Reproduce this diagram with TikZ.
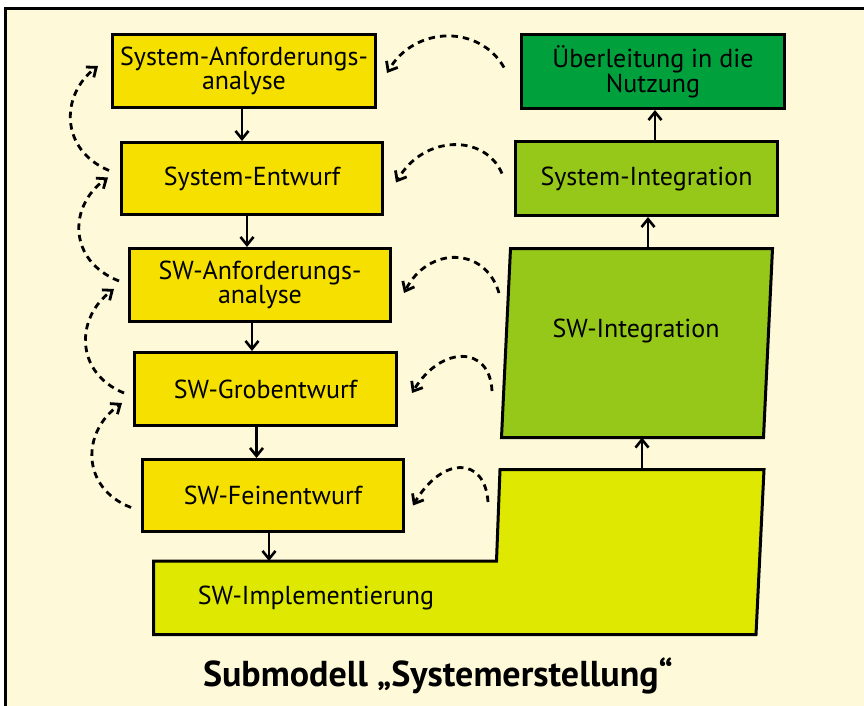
\documentclass[tikz,border=0pt]{standalone}
\usepackage{fontspec}
\setmainfont{PT Sans}
\usetikzlibrary{arrows.meta,calc}
\definecolor{bg}{HTML}{FEFAD9}
\definecolor{ybox}{HTML}{F5E000}
\definecolor{dgreen}{HTML}{00A03C}
\definecolor{lgreen}{HTML}{96C81A}
\definecolor{lime}{HTML}{DEE800}
\begin{document}
\begin{tikzpicture}[x=1pt,y=-1pt,
  box/.style={draw=black,line width=3pt,minimum height=73pt,inner sep=0pt,align=center,
    font=\fontsize{26}{21}\selectfont},
  lbl/.style={font=\fontsize{26}{21}\selectfont,align=center,inner sep=0pt},
  arr/.style={line width=2.6pt,-{Straight Barb[length=8pt,width=13pt,line width=2.6pt]}},
  darr/.style={line width=2.8pt,dash pattern=on 6.5pt off 5pt,
    -{Straight Barb[length=8pt,width=13pt,line width=2.8pt]}}]
\useasboundingbox (0,0) rectangle (864,706);
\begin{scope}
\clip (0,0) rectangle (864,706);
\fill[white] (0,0) rectangle (864,706);
\draw[fill=bg,line width=3pt] (5.5,8.5) rectangle (900,740);
\end{scope}

% left column
\node[box,fill=ybox,minimum width=263pt] (b1) at (244,71) {System-Anforderungs-\\analyse};
\node[box,fill=ybox,minimum width=261pt,minimum height=72pt] (b2) at (252,178.5) {System-Entwurf};
\node[box,fill=ybox,minimum width=261pt] (b3) at (260,285) {SW-Anforderungs-\\analyse};
\node[box,fill=ybox,minimum width=262pt] (b4) at (265.5,389) {SW-Grobentwurf};
\node[box,fill=ybox,minimum width=261pt,minimum height=72pt] (b5) at (273,495.5) {SW-Feinentwurf};

% right column
\node[box,fill=dgreen,minimum width=263pt,minimum height=74pt] (ue) at (653,71.5) {Überleitung in die\\Nutzung};
\node[box,fill=lgreen,minimum width=262pt,minimum height=74pt] (si) at (646.5,178.5) {System-Integration};

\draw[fill=lgreen,line width=3pt,line join=miter] (510.5,248.5) -- (772.5,248.5) -- (763.5,437.5) -- (501.5,437.5) -- cycle;
\coordinate (swiTop) at (648,248.5);
\coordinate (swiBot) at (642,437.5);
\coordinate (swiFb1) at (499,293);
\coordinate (swiFb2) at (492,391);
\node[lbl] (swi) at (636,331) {SW-Integration};

\draw[fill=lime,line width=3pt,line join=miter] (153.5,561) -- (496.5,561) -- (500,469.5) -- (764,469.5) -- (756,634.5) -- (153.5,634.5) -- cycle;
\coordinate (implTop) at (642,469.5);
\coordinate (implL) at (269,561);
\coordinate (implFb) at (488,502);
\node[lbl] (impl) at (316,598) {SW-Implementierung};

% solid arrows
\draw[arr] ([xshift=-2pt]b1.south) -- ([xshift=-2pt]b1.south |- b2.north);
\draw[arr] ([xshift=-5pt]b2.south) -- ([xshift=-5pt]b2.south |- b3.north);
\draw[arr] ([xshift=-8pt]b3.south) -- ([xshift=-8pt]b3.south |- b4.north);
\draw[arr] ([xshift=-9pt]b4.south) -- ([xshift=-9pt]b4.south |- b5.north);
\draw[arr] ([xshift=-4pt]b5.south) -- (implL);
\draw[arr] (implTop) -- (swiBot);
\draw[arr] (swiTop) -- (swiTop |- si.south);
\draw[arr] ([xshift=8.5pt]si.north) -- ([xshift=8.5pt]si.north |- ue.south);

% dashed feedback arrows (left)
\draw[darr] ($(b2.west)+(-11,-8)$) .. controls (60,150) and (60,95) .. ($(b1.west)+(-13,-5)$);
\draw[darr] ($(b3.west)+(-9,-4)$) .. controls (68,261) and (68,206) .. ($(b2.west)+(-12,-1)$);
\draw[darr] ($(b4.west)+(-9,4)$) .. controls (75,373) and (75,318) .. ($(b3.west)+(-14,4)$);
\draw[darr] ($(b5.west)+(-10,12)$) .. controls (81,488) and (81,432) .. ($(b4.west)+(-11,14)$);

% dashed feedback arrows (right)
\draw[darr] ($(ue.west)+(-16,-4)$) .. controls (480,25) and (415,25) .. ($(b1.east)+(10,2)$);
\draw[darr] ($(si.west)+(-12,-5)$) .. controls (485,134) and (424,134) .. ($(b2.east)+(12,4)$);
\draw[darr] (swiFb1) .. controls (485,246) and (428,246) .. ($(b3.east)+(12,8)$);
\draw[darr] (swiFb2) .. controls (490,345) and (441,345) .. ($(b4.east)+(14,4)$);
\draw[darr] (implFb) .. controls (485,456) and (442,456) .. ($(b5.east)+(8,10)$);

\node[font=\bfseries\fontsize{36}{36}\selectfont] (title) at (438,676) {Submodell „Systemerstellung“};
\end{tikzpicture}
\end{document}
